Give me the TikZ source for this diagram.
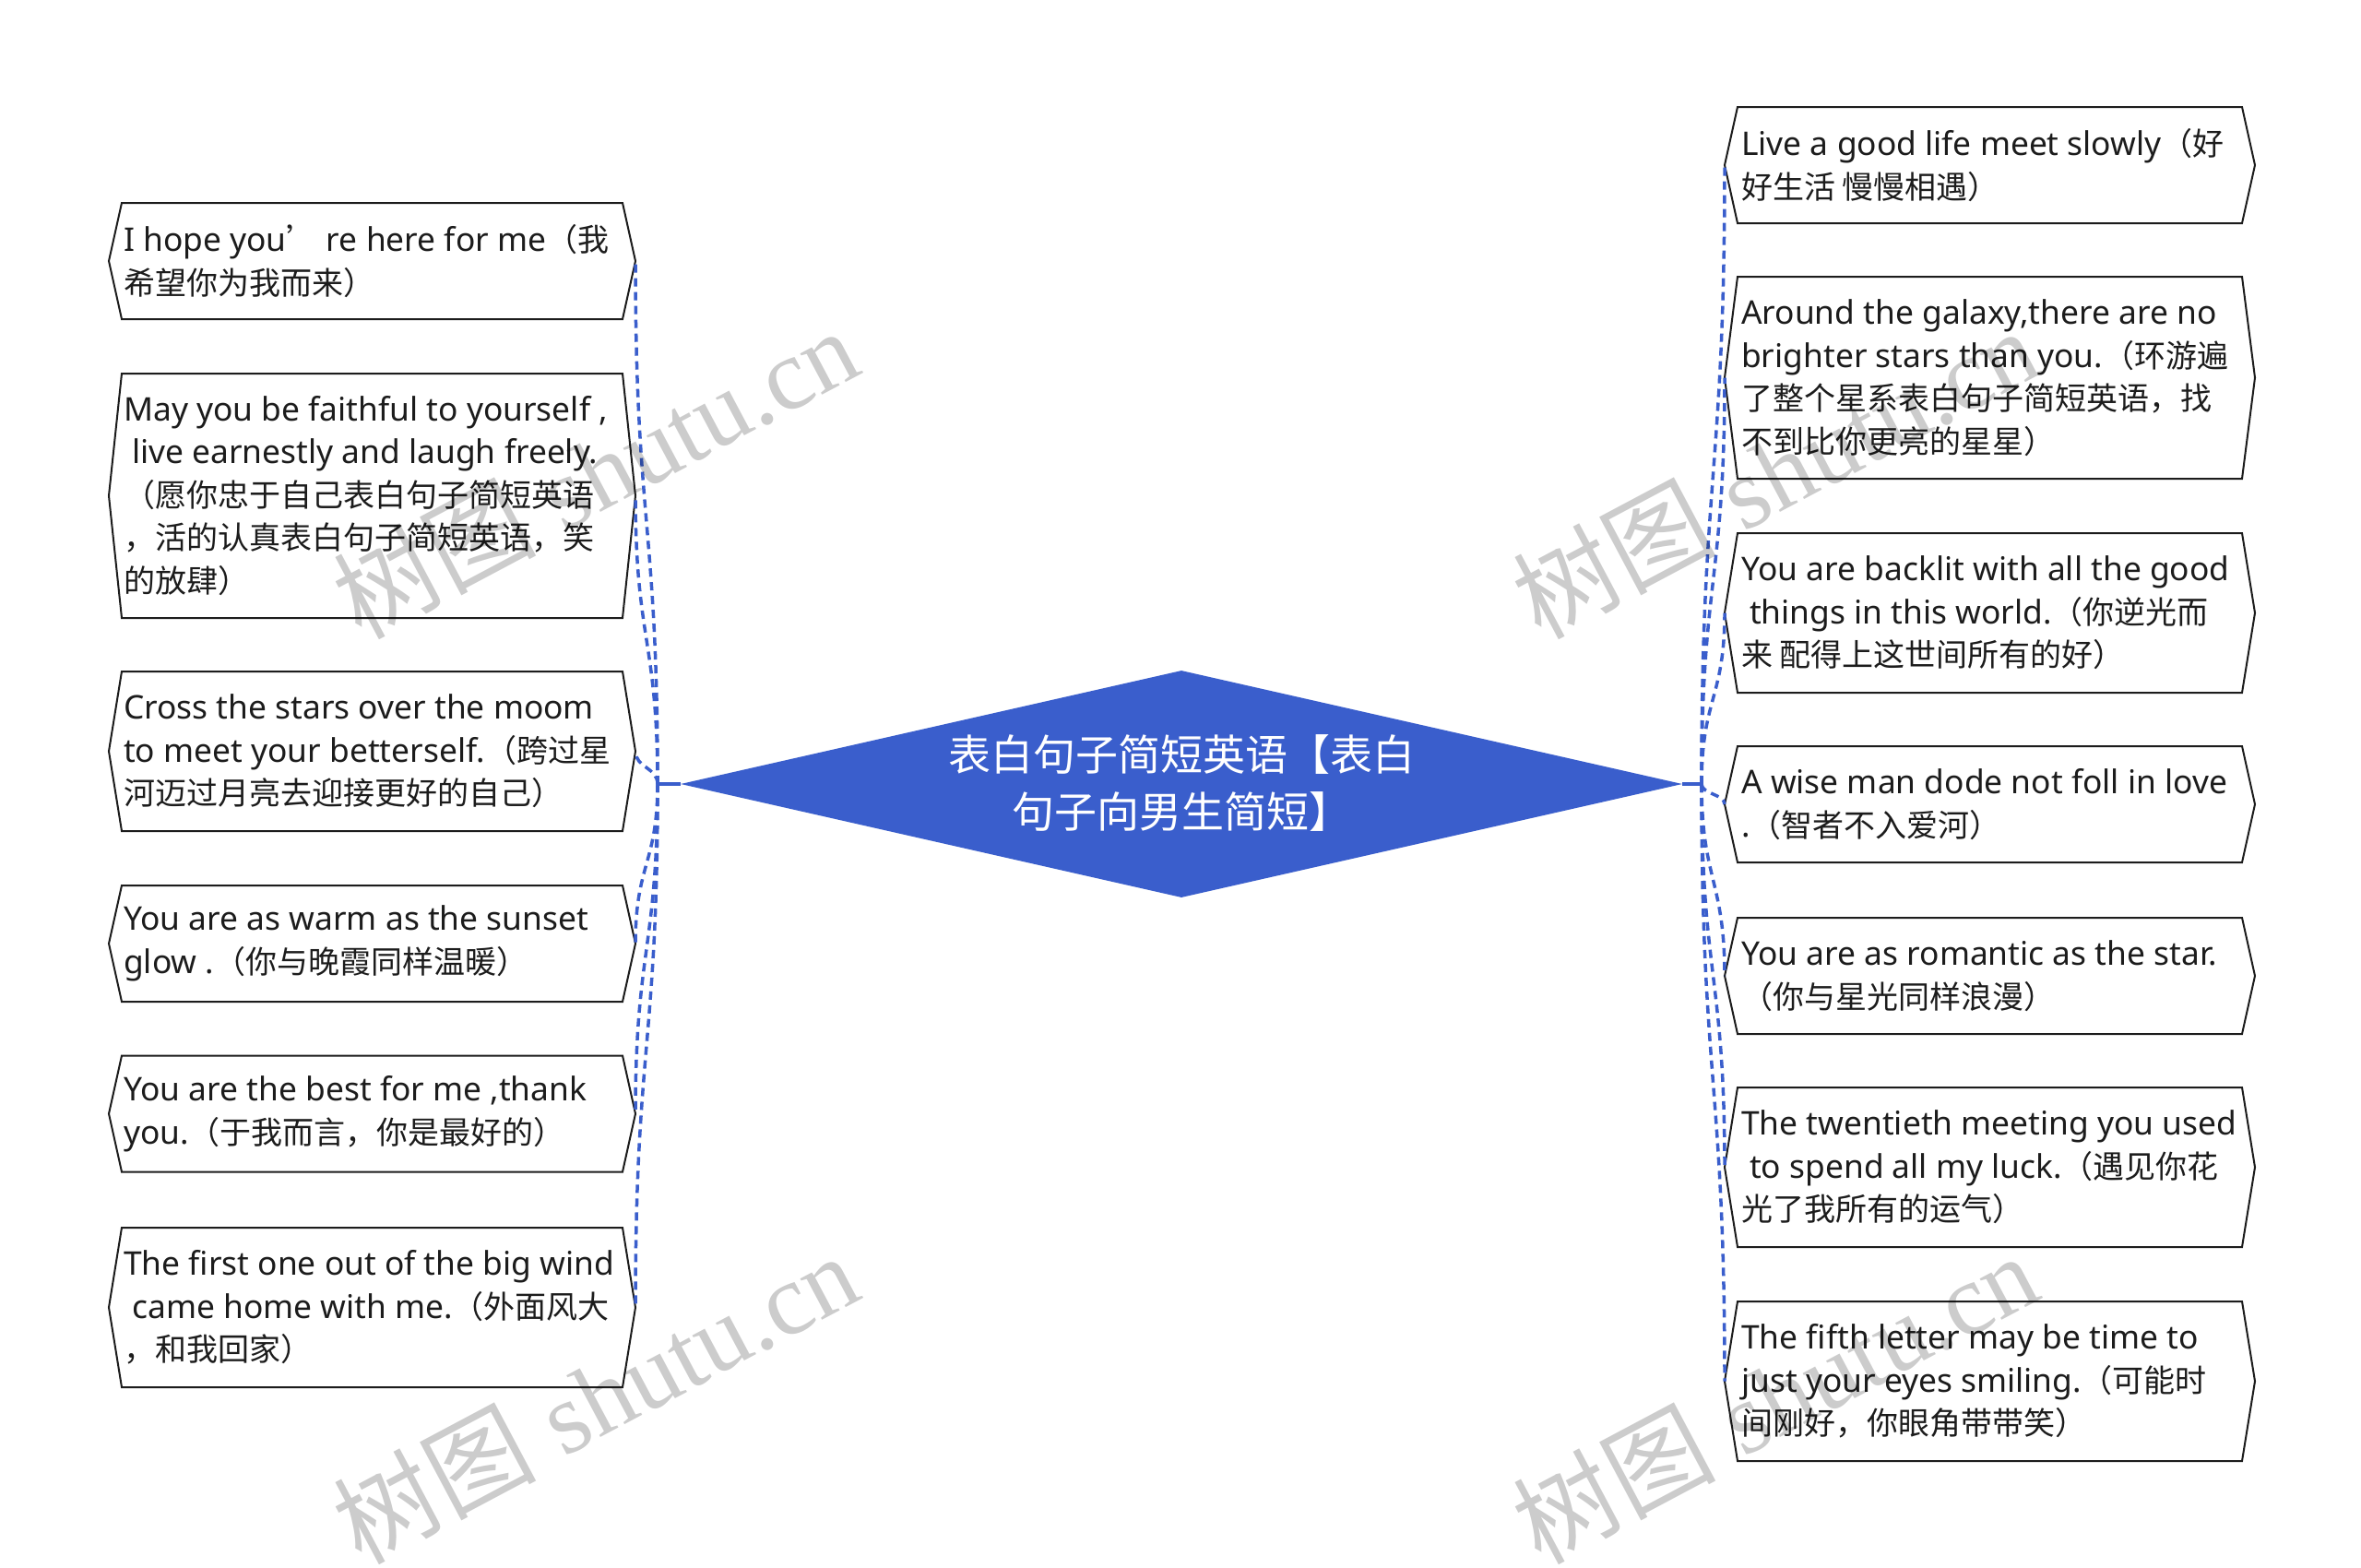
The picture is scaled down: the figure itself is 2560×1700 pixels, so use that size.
\documentclass[tikz,border=0pt]{standalone}
\usepackage{fontspec}
\usetikzlibrary{shapes.geometric,calc}
\setmainfont{Noto Sans}[Scale=1.04]
\newfontfamily\cjk{Noto Sans CJK SC}
\newfontfamily\wmserif{Liberation Serif}
\newcommand\zh[1]{{\cjk #1}}
\newcommand\ind{\hspace*{9pt}}
\definecolor{blueA}{RGB}{58,94,204}
\definecolor{inkA}{RGB}{28,28,28}
\newcommand\hexbox[1]{\draw[frame] (#1.west) -- ([xshift=14pt]#1.north west) -- ([xshift=-14pt]#1.north east) -- (#1.east) -- ([xshift=-14pt]#1.south east) -- ([xshift=14pt]#1.south west) -- cycle;}
\tikzset{
  lbox/.style={draw=none, inner sep=0pt, outer sep=0pt, minimum width=571pt},
  rbox/.style={draw=none, inner sep=0pt, outer sep=0pt, minimum width=575pt},
  frame/.style={draw=inkA, line width=2pt, fill=white, line join=miter},
  txt/.style={anchor=west, align=left, inner sep=0pt, text=inkA, font=\fontsize{34}{46.5}\selectfont},
  link/.style={draw=blueA, line width=3.5pt, dash pattern=on 9pt off 6pt},
  stem/.style={draw=blueA, line width=3.5pt},
  wm/.style={text=black, opacity=0.2, inner sep=0pt, font=\fontsize{110}{120}\selectfont},
}
\begin{document}
\begin{tikzpicture}[x=1pt, y=-1pt]
\useasboundingbox (0,0) rectangle (2560,1700);
\fill[white] (0,0) rectangle (2560,1700);

% ---------- left nodes ----------
\node[lbox, minimum height=126pt] (L1) at (403.5,283) {};
\hexbox{L1}
\node[txt] (L1t) at ([xshift=16pt]L1.west) {I hope you\zh{’} re here for me\zh{（我}\\\zh{希望你为我而来）}};

\node[lbox, minimum height=265pt] (L2) at (403.5,537.5) {};
\hexbox{L2}
\node[txt] (L2t) at ([xshift=16pt]L2.west) {May you be faithful to yourself ,\\\ind live earnestly and laugh freely.\\\zh{（愿你忠于自己表白句子简短英语}\\\zh{，活的认真表白句子简短英语，笑}\\\zh{的放肆）}};

\node[lbox, minimum height=173pt] (L3) at (403.5,814.5) {};
\hexbox{L3}
\node[txt] (L3t) at ([xshift=16pt]L3.west) {Cross the stars over the moom\\to meet your betterself.\zh{（跨过星}\\\zh{河迈过月亮去迎接更好的自己）}};

\node[lbox, minimum height=126pt] (L4) at (403.5,1023) {};
\hexbox{L4}
\node[txt] (L4t) at ([xshift=16pt]L4.west) {You are as warm as the sunset\\glow .\zh{（你与晚霞同样温暖）}};

\node[lbox, minimum height=126pt] (L5) at (403.5,1207.5) {};
\hexbox{L5}
\node[txt] (L5t) at ([xshift=16pt]L5.west) {You are the best for me ,thank\\you.\zh{（于我而言，你是最好的）}};

\node[lbox, minimum height=173pt] (L6) at (403.5,1417.5) {};
\hexbox{L6}
\node[txt] (L6t) at ([xshift=16pt]L6.west) {The first one out of the big wind\\\ind came home with me.\zh{（外面风大}\\\zh{，和我回家）}};

% ---------- right nodes ----------
\node[rbox, minimum height=126pt] (R1) at (2157.5,179) {};
\hexbox{R1}
\node[txt] (R1t) at ([xshift=18pt]R1.west) {Live a good life meet slowly\zh{（好}\\\zh{好生活 慢慢相遇）}};

\node[rbox, minimum height=219pt] (R2) at (2157.5,409.5) {};
\hexbox{R2}
\node[txt] (R2t) at ([xshift=18pt]R2.west) {Around the galaxy,there are no\\brighter stars than you.\zh{（环游遍}\\\zh{了整个星系表白句子简短英语，找}\\\zh{不到比你更亮的星星）}};

\node[rbox, minimum height=173pt] (R3) at (2157.5,664.5) {};
\hexbox{R3}
\node[txt] (R3t) at ([xshift=18pt]R3.west) {You are backlit with all the good\\\ind things in this world.\zh{（你逆光而}\\\zh{来 配得上这世间所有的好）}};

\node[rbox, minimum height=126pt] (R4) at (2157.5,872) {};
\hexbox{R4}
\node[txt] (R4t) at ([xshift=18pt]R4.west) {A wise man dode not foll in love\\.\zh{（智者不入爱河）}};

\node[rbox, minimum height=126pt] (R5) at (2157.5,1058) {};
\hexbox{R5}
\node[txt] (R5t) at ([xshift=18pt]R5.west) {You are as romantic as the star.\\\zh{（你与星光同样浪漫）}};

\node[rbox, minimum height=173pt] (R6) at (2157.5,1265.5) {};
\hexbox{R6}
\node[txt] (R6t) at ([xshift=18pt]R6.west) {The twentieth meeting you used\\\ind to spend all my luck.\zh{（遇见你花}\\\zh{光了我所有的运气）}};

\node[rbox, minimum height=173pt] (R7) at (2157.5,1497.5) {};
\hexbox{R7}
\node[txt] (R7t) at ([xshift=18pt]R7.west) {The fifth letter may be time to\\just your eyes smiling.\zh{（可能时}\\\zh{间刚好，你眼角带带笑）}};

% ---------- centre ----------
\node[diamond, fill=blueA, draw=none, inner sep=0pt, minimum width=1086pt, minimum height=246pt] (root) at (1281,850) {};
\node[text=white, align=center, inner sep=0pt, font=\cjk\fontsize{46}{62}\selectfont] (roott) at (1281,849) {表白句子简短英语【表白\\句子向男生简短】};

\coordinate (lroot) at (713,850);
\coordinate (rroot) at (1845,850);
\draw[stem] (root.west) -- (lroot);
\draw[stem] (root.east) -- (rroot);

\foreach \n in {L1,L2,L3,L4,L5,L6}
  \draw[link] (lroot) .. controls ($(lroot)!0.5!(lroot |- \n.east)$) and ($(\n.east)!0.5!(\n.east |- lroot)$) .. (\n.east);
\foreach \n in {R1,R2,R3,R4,R5,R6,R7}
  \draw[link] (rroot) .. controls ($(rroot)!0.5!(rroot |- \n.west)$) and ($(\n.west)!0.5!(\n.west |- rroot)$) .. (\n.west);

% ---------- watermarks ----------
\node[wm, rotate=28] (wm1) at (645,512) {\zh{树图} {\wmserif shutu.cn}};
\node[wm, rotate=28] (wm2) at (645,1515) {\zh{树图} {\wmserif shutu.cn}};
\node[wm, rotate=28] (wm3) at (1924,512) {\zh{树图} {\wmserif shutu.cn}};
\node[wm, rotate=28] (wm4) at (1924,1515) {\zh{树图} {\wmserif shutu.cn}};
\end{tikzpicture}
\end{document}
